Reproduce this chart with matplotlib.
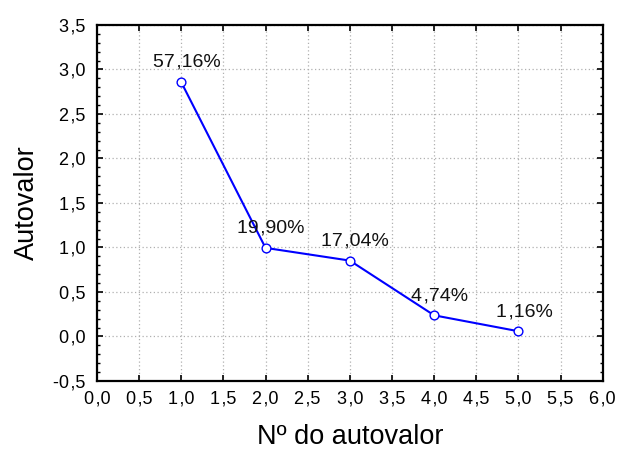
import matplotlib
matplotlib.use("Agg")
import matplotlib.pyplot as plt
from matplotlib.ticker import MultipleLocator, FuncFormatter

plt.rcParams['font.family'] = ['Liberation Sans', 'DejaVu Sans']

# scree plot data
componentes = [1, 2, 3, 4, 5]
autovalores = [2.858, 0.995, 0.852, 0.237, 0.058]
rotulos = ['57,16%', '19,90%', '17,04%', '4,74%', '1,16%']


def virgula(v, pos):
    return f"{v:.1f}".replace('.', '\u200a,')


fig, ax = plt.subplots(figsize=(6.17, 4.54), dpi=100)
fig.subplots_adjust(left=0.157, right=0.977, top=0.945, bottom=0.161)

ax.plot(componentes, autovalores, color='#0000ff', linewidth=1.5,
        marker='o', markersize=6.3, markerfacecolor='white',
        markeredgecolor='#0000ff', markeredgewidth=1.0, zorder=3)

for x, y, txt in zip(componentes, autovalores, rotulos):
    ax.annotate(txt.replace(',', '\u200a,'), (x, y), xytext=(4, 8),
                textcoords='offset points', ha='center', va='bottom',
                fontsize=14, color='#111111')

ax.set_xlim(0, 6)
ax.set_ylim(-0.5, 3.5)
ax.xaxis.set_major_locator(MultipleLocator(0.5))
ax.yaxis.set_major_locator(MultipleLocator(0.5))
ax.yaxis.set_minor_locator(MultipleLocator(0.1))
ax.xaxis.set_major_formatter(FuncFormatter(virgula))
ax.yaxis.set_major_formatter(FuncFormatter(virgula))

ax.tick_params(axis='both', which='major', direction='in', length=4.5, width=1.2,
               top=True, right=True, labelsize=13, color='black')
ax.tick_params(axis='x', which='major', pad=7)
ax.tick_params(axis='y', which='major', pad=8)
ax.tick_params(axis='y', which='minor', direction='in', length=2.5, width=1.0,
               left=True, right=True)

ax.grid(True, which='major', linestyle=(0, (1, 2)), color='#b0b0b0', linewidth=0.9)
ax.set_axisbelow(True)

for s in ax.spines.values():
    s.set_linewidth(1.6)
    s.set_color('black')

ax.set_xlabel('Nº do autovalor', fontsize=19.5, labelpad=12)
ax.set_ylabel('Autovalor', fontsize=19.5, labelpad=10)

fig.savefig('out.png', dpi=100)
